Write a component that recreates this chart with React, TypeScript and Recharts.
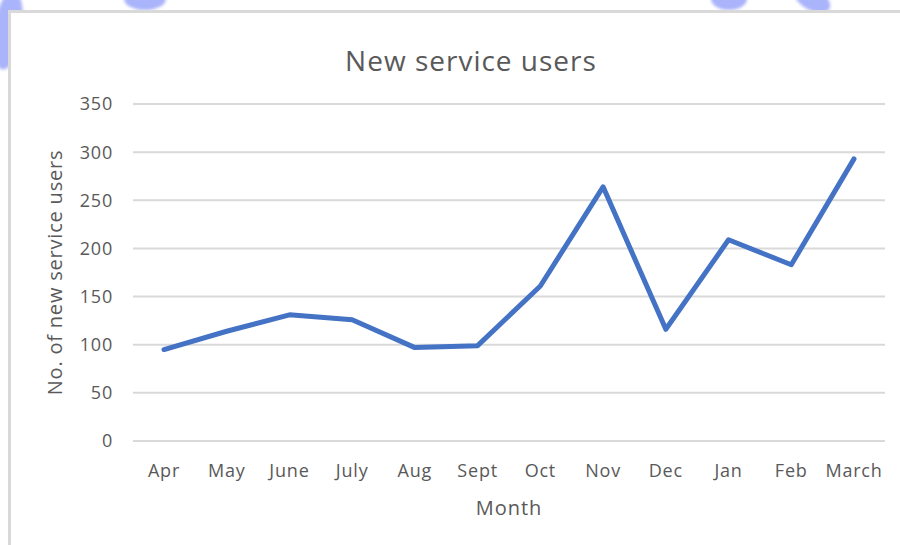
import React from "react";
import {
  LineChart, Line, XAxis, YAxis, CartesianGrid, Label,
} from "recharts";

const months = ["Apr", "May", "June", "July", "Aug", "Sept", "Oct", "Nov", "Dec", "Jan", "Feb", "March"];
const users = [95, 114, 131, 126, 97, 99, 161, 264, 116, 209, 183, 293];
const yTicks = [0, 50, 100, 150, 200, 250, 300, 350];

const data = months.map((m, i) => ({ month: m, users: users[i] }));

const FONT = "'Open Sans', sans-serif";
const TEXT = "#595959";

// pen marks on the scanned page
const blobs = [
  { left: -6, top: -10, width: 28, height: 80, rotate: 8 },
  { left: 124, top: -12, width: 42, height: 22, rotate: 0 },
  { left: 711, top: -12, width: 36, height: 22, rotate: 0 },
  { left: 792, top: -12, width: 40, height: 22, rotate: 30 },
];

const App = () => {
  return (
    <div style={{ position: "absolute", left: 0, top: 0, width: 900, height: 545, background: "#fff", overflow: "hidden", fontFamily: FONT }}>
      {blobs.map((b, i) => (
        <div key={i} style={{
          position: "absolute", left: b.left, top: b.top, width: b.width, height: b.height,
          background: "#aab4fa", borderRadius: "50%", filter: "blur(1.5px)",
          transform: `rotate(${b.rotate}deg)`,
        }} />
      ))}
      <div style={{
        position: "absolute", left: 8, top: 10, width: 900, height: 545,
        borderTop: "3px solid #d9d9d9", borderLeft: "3px solid #d9d9d9", background: "#fff",
      }} />
      <div style={{
        position: "absolute", left: 271, width: 400, top: 41, textAlign: "center",
        fontSize: 28, letterSpacing: 1, color: TEXT, lineHeight: "38px",
      }}>
        New service users
      </div>
      <div style={{ position: "absolute", left: 0, top: 0 }}>
        <LineChart width={900} height={545} data={data}
          margin={{ top: 104, right: 15, bottom: 0, left: 73 }}>
          <CartesianGrid vertical={false} stroke="#d9d9d9" strokeWidth={2} />
          <XAxis dataKey="month" axisLine={false} tickLine={false} height={104}
            padding={{ left: 31, right: 31 }} interval={0} tickMargin={17}
            tick={{ fill: TEXT, fontSize: 18, fontFamily: FONT, letterSpacing: 0.8 }}>
            <Label value="Month" position="insideTop" offset={60}
              style={{ fill: TEXT, fontSize: 20, fontFamily: FONT, letterSpacing: 1 }} />
          </XAxis>
          <YAxis domain={[0, 350]} ticks={yTicks} axisLine={false} tickLine={false} width={60}
            tickMargin={14} interval={0}
            tick={{ fill: TEXT, fontSize: 18, fontFamily: FONT, letterSpacing: 0.8 }}>
            <Label value="No. of new service users" angle={-90} position="insideLeft" offset={-18}
              style={{ fill: TEXT, fontSize: 20, fontFamily: FONT, letterSpacing: 0.8, textAnchor: "middle" }} />
          </YAxis>
          <Line type="linear" dataKey="users" stroke="#4472c4" strokeWidth={5}
            strokeLinejoin="round" strokeLinecap="round" dot={false} isAnimationActive={false} />
        </LineChart>
      </div>
    </div>
  );
};

export default App;
